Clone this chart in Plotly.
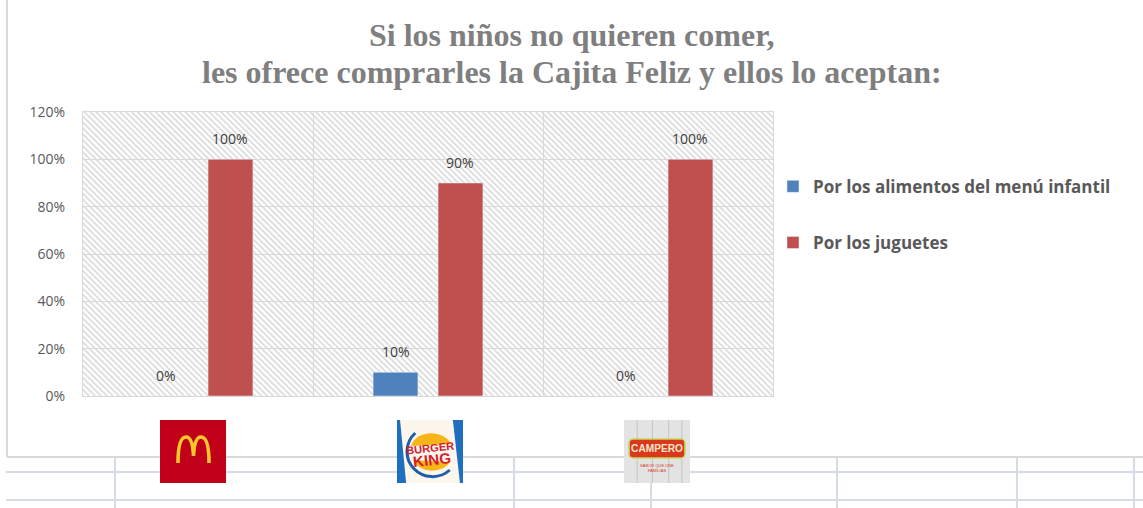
import base64
import plotly.graph_objects as go

# ---------------- data ----------------
categories = ["McDonald's", "Burger King", "Pollo Campero"]
series_names = ["Por los alimentos del menú infantil", "Por los juguetes"]
menu_values = [0.0, 0.10, 0.0]
toy_values = [1.0, 0.90, 1.0]
y_tick_values = [0, 0.2, 0.4, 0.6, 0.8, 1.0, 1.2]
y_tick_labels = ["0%", "20%", "40%", "60%", "80%", "100%", "120%"]
title_lines = ["Si los niños no quieren comer,",
               "les ofrece comprarles la Cajita Feliz y ellos lo aceptan:"]

# ---------------- styles ----------------
W, H = 1143, 508
ML, MR, MT, MB = 83, 370, 112, 112
PW, PH = W - ML - MR, H - MT - MB
BLUE, RED = "#4f81bd", "#c0504d"
TXT = "#595959"
GRID = "#d9d9d9"
SHEET = "#d6dce6"
BARGAP, GROUPGAP = 0.435, 0.31
LOGO_SHIFT_PX = [-5, 2, -1]


def px_x(p):
    return (p - ML) / PW


def px_y(p):
    return (H - MB - p) / PH


def svg_uri(svg):
    return "data:image/svg+xml;base64," + base64.b64encode(svg.encode("utf-8")).decode()


hatch_svg = f"""<svg xmlns="http://www.w3.org/2000/svg" width="{PW}" height="{PH}" viewBox="0 0 {PW} {PH}">
<defs><pattern id="h" width="4.2" height="4.2" patternUnits="userSpaceOnUse" patternTransform="rotate(-45)">
<line x1="1" y1="0" x2="1" y2="4.2" stroke="#dcdcdc" stroke-width="1.8"/></pattern></defs>
<rect width="{PW}" height="{PH}" fill="#ffffff"/>
<rect width="{PW}" height="{PH}" fill="url(#h)"/></svg>"""

mcd_svg = """<svg xmlns="http://www.w3.org/2000/svg" width="66" height="63" viewBox="0 0 66 63">
<rect width="66" height="63" fill="#c1001a"/>
<path d="M18 43 C18 25 21 17 26 17 C31 17 33 25 33.5 36 C34 25 36 17 41 17 C46 17 49 25 49 43"
 fill="none" stroke="#ffc72c" stroke-width="3.6"/></svg>"""

bk_svg = """<svg xmlns="http://www.w3.org/2000/svg" width="65" height="63" viewBox="0 0 65 63">
<rect width="65" height="63" fill="#fdf6ec"/>
<path d="M0 0 L3 0 L9 63 L0 63 Z" fill="#1f6fc0"/>
<path d="M55 0 L65 0 L65 63 L62 63 Z" fill="#1f6fc0"/>
<path d="M18 13 A22 22 0 1 0 52 50" fill="none" stroke="#1d5fae" stroke-width="3"/>
<path d="M14 26 A20 15 0 0 1 53 24 Z" fill="#f7b519"/>
<path d="M16 40 A19 14 0 0 0 52 42 Z" fill="#f7b519"/>
<text x="33" y="32" font-family="Liberation Sans" font-weight="bold" font-size="11" fill="#d2202f"
 text-anchor="middle" transform="rotate(-6 33 32)">BURGER</text>
<text x="35" y="45" font-family="Liberation Sans" font-weight="bold" font-size="15" fill="#d2202f"
 text-anchor="middle" transform="rotate(-6 35 45)">KING</text></svg>"""

camp_svg = """<svg xmlns="http://www.w3.org/2000/svg" width="65" height="63" viewBox="0 0 65 63">
<rect width="65" height="63" fill="#e3e3e3"/>
<g stroke="#c4c4c4" stroke-width="1"><line x1="13" y1="0" x2="13" y2="63"/><line x1="28" y1="0" x2="28" y2="63"/>
<line x1="44" y1="0" x2="44" y2="63"/><line x1="57" y1="0" x2="57" y2="63"/></g>
<rect x="5" y="19" width="55" height="19" rx="4" fill="#d9381e" stroke="#c8d65a" stroke-width="1.5"/>
<text x="32.5" y="32" font-family="Liberation Sans" font-weight="bold" font-size="10" fill="#f6e7c8"
 text-anchor="middle">CAMPERO</text>
<text x="32.5" y="47" font-family="Liberation Sans" font-size="4" fill="#d9381e" text-anchor="middle">SABOR QUE UNE</text>
<text x="32.5" y="52" font-family="Liberation Sans" font-size="4" fill="#d9381e" text-anchor="middle">FAMILIAS</text></svg>"""

logos = [mcd_svg, bk_svg, camp_svg]

# ---------------- figure ----------------
fig = go.Figure()
fig.add_trace(go.Bar(x=categories, y=menu_values, name=series_names[0], marker_color=BLUE,
                     legendgroup="a"))
fig.add_trace(go.Bar(x=categories, y=toy_values, name=series_names[1], marker_color=RED,
                     legendgroup="b"))

# data labels from the values
slot = (1 - BARGAP) / 2
annotations = []
for s, vals in enumerate([menu_values, toy_values]):
    off = (s - 0.5) * slot
    for i, v in enumerate(vals):
        annotations.append(dict(x=i + off, y=v, xref="x", yref="y", text=f"{v:.0%}",
                                showarrow=False, yanchor="bottom", yshift=9,
                                font=dict(family="Open Sans", size=14, color="#404040")))

# two-line title, centered on the page
for k, line in enumerate(title_lines):
    annotations.append(dict(x=px_x(W / 2), xref="paper", y=px_y([35, 72][k]), yref="paper",
                            text="<b>" + line + "</b>", showarrow=False,
                            xanchor="center", yanchor="middle",
                            font=dict(family="Liberation Serif", size=32, color="#7f7f7f")))

images = [dict(source=svg_uri(hatch_svg), xref="paper", yref="paper", x=0, y=1, sizex=1, sizey=1,
               xanchor="left", yanchor="top", sizing="stretch", layer="below")]
for i, svg in enumerate(logos):
    images.append(dict(source=svg_uri(svg), xref="x", yref="paper",
                       x=i + LOGO_SHIFT_PX[i] / PW * 3, y=px_y(420),
                       sizex=66 / PW * 3, sizey=63 / PH, xanchor="center", yanchor="top",
                       sizing="stretch", layer="above"))

shapes = []
# chart frame
shapes.append(dict(type="line", xref="paper", yref="paper", x0=px_x(7), x1=px_x(7),
                   y0=px_y(0), y1=px_y(457), line=dict(color=GRID, width=2), layer="below"))
shapes.append(dict(type="line", xref="paper", yref="paper", x0=px_x(7), x1=px_x(W),
                   y0=px_y(457), y1=px_y(457), line=dict(color=GRID, width=2), layer="below"))
# spreadsheet cells below the chart
for yy in [472, 500]:
    shapes.append(dict(type="line", xref="paper", yref="paper", x0=px_x(6), x1=px_x(W),
                       y0=px_y(yy), y1=px_y(yy), line=dict(color=SHEET, width=2), layer="below"))
for xx in [115, 514, 651, 837, 1017, 1134]:
    shapes.append(dict(type="line", xref="paper", yref="paper", x0=px_x(xx), x1=px_x(xx),
                       y0=px_y(458), y1=px_y(H), line=dict(color=SHEET, width=2), layer="below"))

fig.update_layout(
    width=W, height=H,
    margin=dict(l=ML, r=MR, t=MT, b=MB),
    paper_bgcolor="white", plot_bgcolor="rgba(0,0,0,0)",
    barmode="group", bargap=BARGAP, bargroupgap=GROUPGAP,
    xaxis=dict(type="category", tickson="boundaries", showgrid=True, gridcolor=GRID, gridwidth=1,
               showticklabels=False, ticks="", showline=True, linecolor=GRID, linewidth=1,
               mirror=True, zeroline=False),
    yaxis=dict(range=[0, 1.2], tickvals=y_tick_values, ticktext=y_tick_labels,
               showgrid=True, gridcolor=GRID, gridwidth=1, showline=True, linecolor=GRID,
               linewidth=1, mirror=True, zeroline=False, ticks="", ticklabelstandoff=14,
               tickfont=dict(family="Open Sans", size=14, color=TXT)),
    legend=dict(x=1.0, xanchor="left", y=0.80, yanchor="top", traceorder="grouped",
                tracegroupgap=31, font=dict(family="Open Sans", size=17, color=TXT, weight="bold"),
                bgcolor="rgba(0,0,0,0)"),
    annotations=annotations, images=images, shapes=shapes,
)

fig.write_html("out.html")
